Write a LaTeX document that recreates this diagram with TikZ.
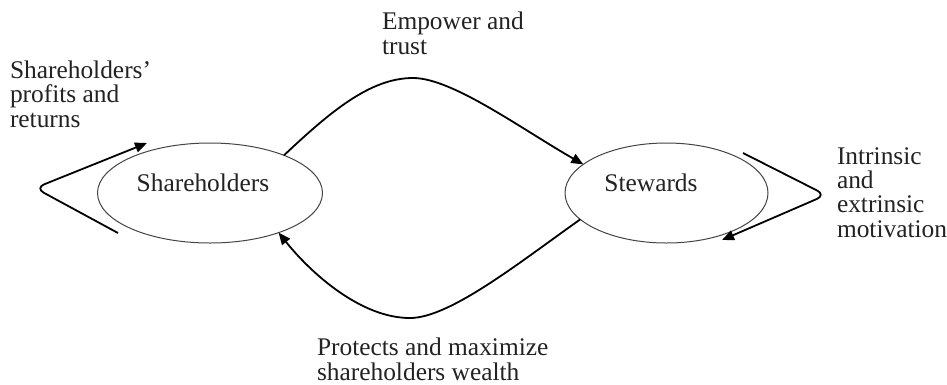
\documentclass[tikz,border=0pt]{standalone}
\usepackage{fontspec}
\setmainfont{Liberation Serif}
\usetikzlibrary{shapes.geometric,arrows.meta}
\definecolor{ink}{HTML}{222222}
\definecolor{rim}{HTML}{444444}
\begin{document}
\begin{tikzpicture}[x=1pt,y=-1pt,
  every node/.style={inner sep=0pt,outer sep=0pt},
  actor/.style={draw=rim,line width=1pt,ellipse,fill=white},
  lbl/.style={font=\fontsize{25.4}{24.3}\selectfont,text=ink,align=left,anchor=base west},
  ename/.style={font=\fontsize{25.4}{24.3}\selectfont,text=ink,anchor=base},
  flow/.style={draw=black,line width=1.8pt,-{Triangle[length=12pt,width=10pt]}},
  loopflow/.style={flow,rounded corners=10pt}]
\useasboundingbox (0,0) rectangle (947,384);
\node[actor,minimum width=225pt,minimum height=100pt] (sh) at (210,193) {};
\node[actor,minimum width=203pt,minimum height=100pt] (st) at (666.5,193) {};
\node[ename] (shtxt) at (203,191) {Shareholders};
\node[ename] (sttxt) at (651,191) {Stewards};
\node[lbl] (l1) at (10,127) {Shareholders'\\profits and\\returns};
\node[lbl] (l2) at (382,54) {Empower and\\trust};
\node[lbl] (l3) at (837,237) {Intrinsic\\and\\extrinsic\\motivation};
\node[lbl] (l4) at (317,380) {Protects and maximize\\shareholders wealth};
\coordinate (ltail) at (118,233);
\coordinate (lapex) at (35,188);
\coordinate (ltip) at (147,143);
\coordinate (rtail) at (743,153);
\coordinate (rapex) at (826,195);
\coordinate (rtip) at (722,240);
\draw[flow] (sh.27) .. controls (330,112) and (370,78) .. (413,78)
  .. controls (452,78) and (520,128) .. (st.161);
\draw[flow] (st.197) .. controls (520,262) and (450,318) .. (410,318)
  .. controls (360,318) and (310,272) .. (sh.330);
\draw[loopflow] (ltail) -- (lapex) -- (ltip);
\draw[loopflow] (rtail) -- (rapex) -- (rtip);
\end{tikzpicture}
\end{document}
